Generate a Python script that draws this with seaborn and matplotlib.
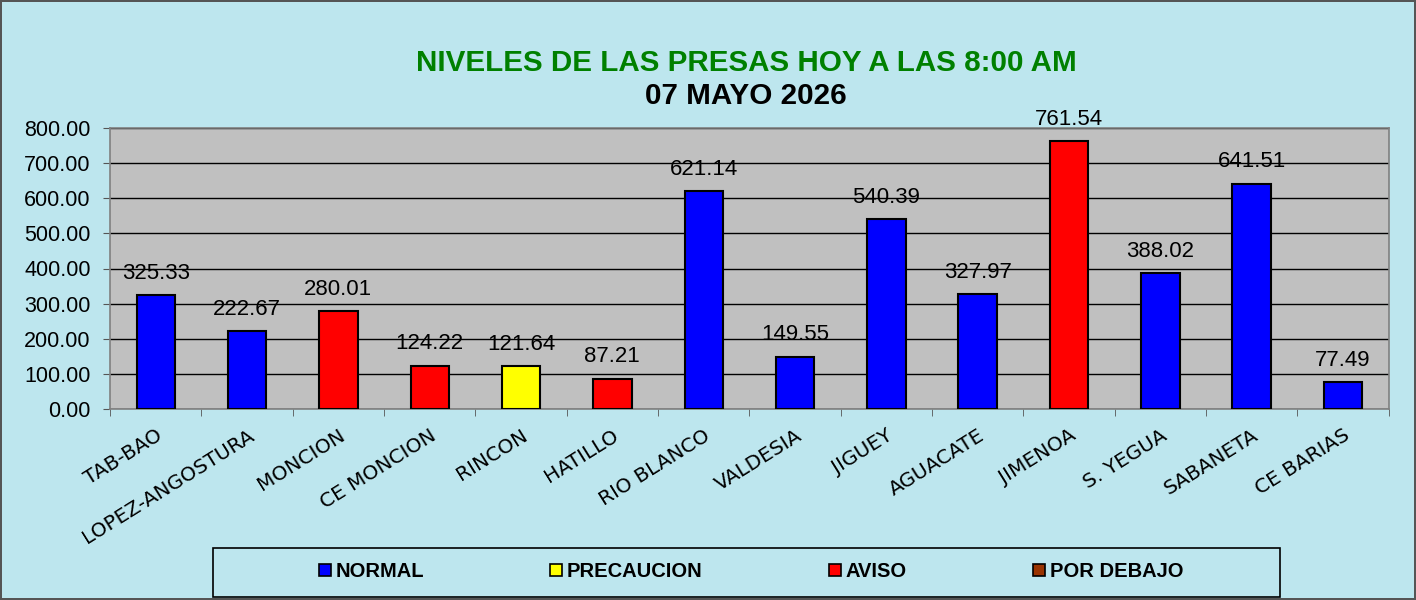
import numpy as np
import pandas as pd
import matplotlib.pyplot as plt
import matplotlib.patches as mpatches
from matplotlib.lines import Line2D
from matplotlib.ticker import MultipleLocator, FixedLocator
import seaborn as sns

# Data
presas = ['TAB-BAO', 'LOPEZ-ANGOSTURA', 'MONCION', 'CE MONCION', 'RINCON',
          'HATILLO', 'RIO BLANCO', 'VALDESIA', 'JIGUEY', 'AGUACATE',
          'JIMENOA', 'S. YEGUA', 'SABANETA', 'CE BARIAS']
niveles = [325.33, 222.67, 280.01, 124.22, 121.64, 87.21, 621.14,
           149.55, 540.39, 327.97, 761.54, 388.02, 641.51, 77.49]
estado = ['NORMAL', 'NORMAL', 'AVISO', 'AVISO', 'PRECAUCION', 'AVISO',
          'NORMAL', 'NORMAL', 'NORMAL', 'NORMAL', 'AVISO', 'NORMAL',
          'NORMAL', 'NORMAL']
leyenda = ['NORMAL', 'PRECAUCION', 'AVISO', 'POR DEBAJO']
colores = ['#0000ff', '#ffff00', '#ff0000', '#993300']

df = pd.DataFrame({'presa': presas, 'nivel': niveles, 'estado': estado})
palette = dict(zip(leyenda, colores))

sns.set_style('white')
plt.rcParams['font.family'] = ['Liberation Sans', 'DejaVu Sans']
plt.rcParams['text.color'] = 'black'
plt.rcParams['xtick.color'] = 'black'
plt.rcParams['ytick.color'] = 'black'

fig = plt.figure(figsize=(14.16, 6), dpi=100)
fig.patch.set_facecolor('#bde6ee')
fig.patch.set_edgecolor('#555555')
fig.patch.set_linewidth(1.5)

ax = fig.add_axes([0.0777, 0.318, 0.903, 0.469])
ax.set_facecolor('#c0c0c0')

sns.barplot(data=df, x='presa', y='nivel', hue='estado', palette=palette,
            dodge=False, width=0.42, edgecolor='black', linewidth=1.5,
            saturation=1, legend=False, ax=ax, zorder=3)

ax.set_ylim(0, 800)
ax.set_xlim(-0.5, len(presas) - 0.5)
ax.yaxis.set_major_locator(MultipleLocator(100))
ax.yaxis.set_major_formatter(plt.FuncFormatter(lambda v, p: f'{v:.2f}'))
ax.grid(axis='y', color='black', linewidth=1, zorder=0)
ax.set_axisbelow(True)
ax.set_xlabel('')
ax.set_ylabel('')

for s in ax.spines.values():
    s.set_color('#808080')
    s.set_linewidth(1.2)

ax.tick_params(axis='y', labelsize=15.5, length=5, color='#555555', left=True, pad=9)
ax.tick_params(axis='x', which='major', length=0, pad=12)
ax.xaxis.set_minor_locator(FixedLocator(np.arange(-0.5, len(presas), 1)))
ax.tick_params(axis='x', which='minor', length=5, color='#555555', bottom=True)
ax.set_xticks(range(len(presas)))
ax.set_xticklabels(presas, rotation=32, ha='right', rotation_mode='anchor',
                   fontsize=14.5, family='DejaVu Sans')

for i, v in enumerate(niveles):
    ax.annotate(f'{v:.2f}', (i, v), xytext=(0, 8), textcoords='offset points',
                ha='center', va='bottom', fontsize=16, color='black', clip_on=False)

fig.text(0.527, 0.895, 'NIVELES DE LAS PRESAS HOY A LAS 8:00 AM',
         ha='center', va='center', fontsize=21.3, fontweight='bold', color='#008000')
fig.text(0.527, 0.840, '07 MAYO 2026', ha='center', va='center',
         fontsize=21.3, fontweight='bold', color='black')

# legend box
fig.patches.append(mpatches.Rectangle((213 / 1416, 3 / 600), 1067 / 1416, 49 / 600,
                                      transform=fig.transFigure, fill=False,
                                      edgecolor='black', linewidth=1.2))
handles = [Line2D([0], [0], marker='s', linestyle='', markersize=8,
                  markerfacecolor=c, markeredgecolor='black', markeredgewidth=1.2)
           for c in colores]
fig.legend(handles, leyenda, loc='center', ncol=4,
           bbox_to_anchor=(0.530, 0.047), frameon=False,
           handlelength=0.7, handletextpad=0.2, columnspacing=6.2,
           prop={'weight': 'bold', 'size': 14.5})

fig.savefig('out.png', dpi=100, facecolor=fig.get_facecolor(), edgecolor=fig.get_edgecolor())
